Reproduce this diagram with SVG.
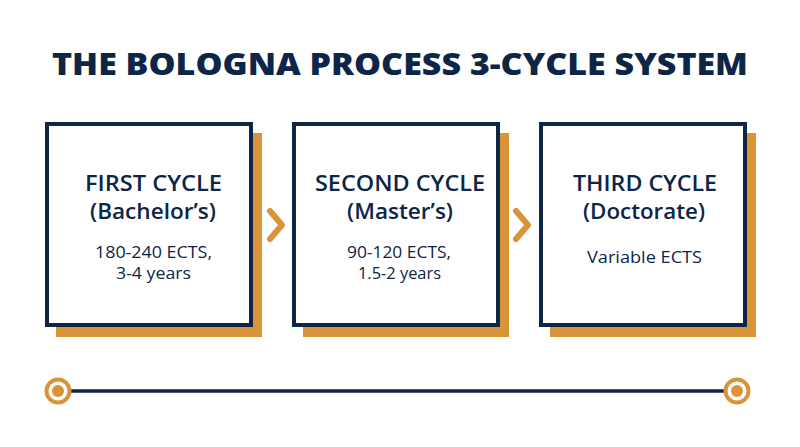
<svg xmlns="http://www.w3.org/2000/svg" width="800" height="447" viewBox="0 0 800 447">
<style>
.shadow{fill:#d9943a}
.box{fill:#fff;stroke:#0d2547;stroke-width:4}
.t{font-family:"Open Sans","Liberation Sans",sans-serif;fill:#0d2547;text-anchor:middle}
.h{font-size:21px;font-weight:600}
.b{font-size:16px;font-weight:400}
.chev{fill:none;stroke:#d9943a;stroke-width:6;stroke-linecap:round;stroke-linejoin:round}
</style>
<rect width="800" height="447" fill="#fff"/>
<text class="t" x="400" y="74.5" font-size="30" font-weight="800" textLength="696" lengthAdjust="spacingAndGlyphs">THE BOLOGNA PROCESS 3-CYCLE SYSTEM</text>
<g id="first">
<rect class="shadow" x="56" y="133" width="206" height="204"/>
<rect class="box" x="47" y="124" width="204" height="201"/>
<text class="t h" x="153.5" y="191" textLength="137" lengthAdjust="spacingAndGlyphs">FIRST CYCLE</text>
<text class="t h" x="153" y="219" textLength="126" lengthAdjust="spacingAndGlyphs">(Bachelor’s)</text>
<text class="t b" x="153.5" y="258" textLength="117" lengthAdjust="spacingAndGlyphs">180-240 ECTS,</text>
<text class="t b" x="153.5" y="279" textLength="75" lengthAdjust="spacingAndGlyphs">3-4 years</text>
</g>
<g id="second">
<rect class="shadow" x="303" y="133" width="206" height="204"/>
<rect class="box" x="294" y="124" width="204" height="201"/>
<text class="t h" x="400" y="191" textLength="170" lengthAdjust="spacingAndGlyphs">SECOND CYCLE</text>
<text class="t h" x="400" y="219" textLength="106" lengthAdjust="spacingAndGlyphs">(Master’s)</text>
<text class="t b" x="399" y="258" textLength="104" lengthAdjust="spacingAndGlyphs">90-120 ECTS,</text>
<text class="t b" x="399.5" y="279" textLength="83" lengthAdjust="spacingAndGlyphs">1.5-2 years</text>
</g>
<g id="third">
<rect class="shadow" x="550" y="133" width="206" height="204"/>
<rect class="box" x="541" y="124" width="204" height="201"/>
<text class="t h" x="645" y="191" textLength="144" lengthAdjust="spacingAndGlyphs">THIRD CYCLE</text>
<text class="t h" x="644" y="219" textLength="122" lengthAdjust="spacingAndGlyphs">(Doctorate)</text>
<text class="t b" x="644.5" y="263" textLength="115" lengthAdjust="spacingAndGlyphs">Variable ECTS</text>
</g>
<g id="connectors">
<polyline class="chev" points="270,211 282,225 270,239"/>
<polyline class="chev" points="516,211 528,225 516,239"/>
<line x1="60" y1="391" x2="737" y2="391" stroke="#0d2547" stroke-width="3.5"/>
</g>
<g id="start">
<circle cx="58" cy="391" r="13.5" fill="#d9943a"/>
<circle cx="58" cy="391" r="9.5" fill="#fff"/>
<circle cx="58" cy="391" r="6" fill="#d9943a"/>
</g>
<g id="end">
<circle cx="737" cy="391" r="13.5" fill="#d9943a"/>
<circle cx="737" cy="391" r="9.5" fill="#fff"/>
<circle cx="737" cy="391" r="6" fill="#d9943a"/>
</g>
</svg>
